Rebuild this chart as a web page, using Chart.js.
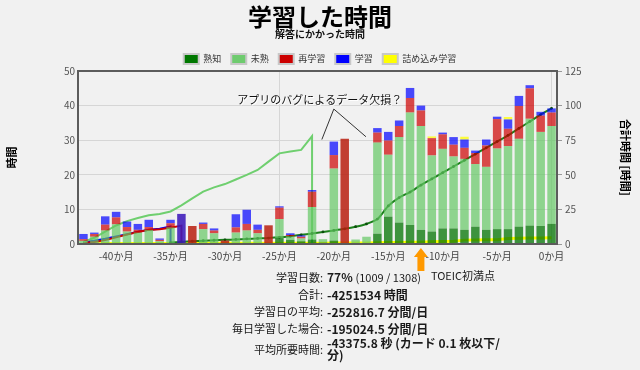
<!DOCTYPE html>
<html lang="ja">
<head>
<meta charset="utf-8">
<title>学習した時間</title>
<script src="https://cdn.jsdelivr.net/npm/chart.js@4.4.1/dist/chart.umd.min.js"></script>
<style>
  html, body { margin: 0; padding: 0; background: #f1f1f1; }
  body { width: 640px; height: 370px; position: relative; overflow: hidden;
         font-family: "Noto Sans CJK JP", "Noto Sans", sans-serif; }
  #wrap { position: absolute; left: 0; top: 0; width: 640px; height: 370px; }
  #stats { position: absolute; left: 0; top: 268px; width: 640px; font-size: 11px; color: #1a1a1a; }
  .row { display: flex; align-items: center; line-height: 17px; }
  .row .k { width: 323px; text-align: right; }
  .row .v { margin-left: 4px; width: 200px; font-weight: bold; font-size: 12px; }
  .row .v.two { line-height: 12px; }
  .row .v span { font-weight: normal; font-size: 11px; }
</style>
</head>
<body>
<div id="wrap"><canvas id="chart" width="640" height="370"></canvas></div>
<div id="stats">
  <div class="row"><div class="k">学習日数:</div><div class="v">77% <span>(1009 / 1308)</span></div></div>
  <div class="row"><div class="k">合計:</div><div class="v">-4251534 時間</div></div>
  <div class="row"><div class="k">学習日の平均:</div><div class="v">-252816.7 分間/日</div></div>
  <div class="row"><div class="k">毎日学習した場合:</div><div class="v">-195024.5 分間/日</div></div>
  <div class="row"><div class="k">平均所要時間:</div><div class="v two">-43375.8 秒 (カード 0.1 枚以下/<br>分)</div></div>
</div>
<script>
// ── Data ──────────────────────────────────────────────────────────────

const months = [-43, -42, -41, -40, -39, -38, -37, -36, -35, -34, -33, -32, -31, -30, -29,
                -28, -27, -26, -25, -24, -23, -22, -21, -20, -19, -18, -17, -16, -15, -14,
                -13, -12, -11, -10, -9, -8, -7, -6, -5, -4, -3, -2, -1, 0];
const labels = months.map(m => m + 'か月');

// monthly hours (left axis), stacked
const matureHours  = [0, 0, 0, 0, 0, 0, 0, 0, 0, 0, 0, 0, 0, 0, 0,
                      0, 0, 0, 1.7, 1.2, 0.8, 1.3, 0.4, 1.0, 0, 0.3, 0.3, 3.0, 7.9, 6.2,
                      5.5, 4.1, 3.6, 4.5, 4.5, 4.1, 5.0, 4.1, 4.3, 4.3, 5.0, 5.3, 5.2, 5.8];
const unripeHours  = [0.9, 2.1, 3.9, 5.7, 3.6, 3.3, 4.1, 0.8, 4.8, 0, 0, 4.3, 3.1, 0, 3.3,
                      3.9, 3.1, 0, 5.5, 1.0, 0.8, 9.4, 1.0, 20.8, 0, 1.0, 1.8, 26.3, 17.9, 24.7,
                      32.5, 30.0, 22.0, 23.0, 20.8, 20.5, 18.1, 18.2, 23.3, 24.0, 25.4, 30.9, 27.2, 28.3];
const relearnHours = [0.5, 0.8, 1.7, 2.0, 1.3, 0.8, 0.8, 0.4, 1.2, 0, 5.2, 1.5, 0.8, 1.0, 1.5,
                      1.9, 1.0, 5.4, 3.3, 0.4, 0.5, 4.4, 0, 3.9, 30.4, 0, 0, 2.9, 4.1, 3.2,
                      4.2, 4.5, 5.0, 4.2, 3.4, 3.2, 3.2, 6.2, 8.5, 5.0, 9.5, 8.8, 4.7, 3.9];
const learnHours   = [1.5, 0.4, 2.4, 1.6, 1.6, 1.7, 2.1, 0.4, 1.0, 8.7, 0, 0.4, 0.6, 0, 3.8,
                      4.1, 1.5, 0, 0.4, 0.5, 0.4, 0.5, 0, 3.9, 0, 0, 0, 1.3, 2.5, 1.6,
                      2.9, 1.4, 0, 0.5, 2.2, 2.4, 0.7, 1.7, 0.7, 2.7, 2.9, 0.9, 1.1, 1.2];
const cramHours    = [0, 0, 0, 0, 0, 0, 0, 0, 0, 0, 0, 0, 0, 0, 0,
                      0, 0, 0, 0, 0, 0, 0, 0, 0, 0, 0, 0, 0, 0, 0,
                      0, 0, 0.5, 0, 0, 0.8, 0, 0, 0, 0.7, 0, 0, 0, 0];

// cumulative hours (right axis); null = no data
const matureTotal  = [null, null, null, null, null, null, null, null, 1.0, 1.5, 2.0, 2.4, 2.7, 3.0, 3.3,
                      3.7, 4.0, 4.3, 4.8, 5.6, 6.6, 7.6, 8.7, 9.8, 11.0, 12.5, 14.5, 18.0, 27.5, 33.5,
                      37.5, 42.5, 47.0, 51.5, 56.0, 60.5, 65.0, 69.5, 74.0, 78.5, 83.5, 88.5, 93.5, 98.0];
const unripeTotal  = [1.5, 4.5, 9.0, 13.4, 16.5, 18.8, 20.7, 21.7, 23.5, 27.9, 32.9, 37.8, 40.9, 43.3, 46.6,
                      49.9, 53.5, 59.5, 65.5, 66.8, 68.0, 78.0, null, null, null, null, null, null, null, null,
                      null, null, null, null, null, null, null, null, null, null, null, null, null, null];
const relearnTotal = [0.8, 1.5, 2.8, 4.8, 6.8, 8.6, 10.2, 10.6, 11.8, 13.3, null, null, null, null, null,
                      null, null, null, null, null, null, null, null, null, null, null, null, null, null, null,
                      null, null, null, null, null, null, null, null, null, null, null, null, null, null];
const learnTotal   = [1.5, 2.4, 3.8, 5.5, 7.1, 8.8, 10.3, 11.1, 12.6, null, null, null, null, null, null,
                      null, null, null, null, null, null, null, null, null, null, null, null, null, null, null,
                      null, null, null, null, null, null, null, null, null, null, null, null, null, null];
const cramTotal    = [0.2, 0.2, 0.3, 0.3, 0.3, 0.3, 0.4, 0.4, 0.4, 0.4, 0.4, 0.5, 0.5, 0.5, 0.5,
                      0.5, 0.5, 0.5, 0.6, 0.6, 0.6, 0.6, 0.6, 0.7, 0.7, 0.7, 0.8, 0.9, 1.0, 1.1,
                      1.2, 1.3, 1.6, 1.8, 2.0, 2.8, 2.9, 3.0, 3.1, 4.0, 4.2, 4.3, 4.4, 4.5];

const legendColors = ['#007800', '#6ecb6e', '#cc0000', '#0000ff', '#ffff00'];

// annotation anchors (month, left-axis hours)
const noteText = 'アプリのバグによるデータ欠損？';
const noteAt = [-21.3, 41.6];
const noteApex = [-20, 39];
const noteTargets = [[-21.1, 30.2], [-17.05, 31]];
const toeicMonth = -12;
const toeicText = 'TOEIC初満点';

const FONT = "'Noto Sans CJK JP', 'Noto Sans', sans-serif";
Chart.defaults.font.family = FONT;

// series that end with a fall back to zero
function toPoints(values, drop) {
    const pts = [];
    values.forEach((v, i) => { if (v !== null) pts.push({ x: labels[i], y: v }); });
    if (drop && pts.length) pts.push({ x: pts[pts.length - 1].x, y: 0 });
    return pts;
}

// bars with nothing green beneath look darker in the original
const shade = (normal, dark) => ctx => (unripeHours[ctx.dataIndex] ? normal : dark);

// ── Plugin: frame, note, arrow ───────────────────────────────────────

const decorations = {
    id: 'decorations',
    afterDatasetsDraw(chart) {
        const { ctx, chartArea: a, scales: { x, y } } = chart;
        const mx = m => x.getPixelForValue(m - months[0]);
        ctx.save();
        ctx.strokeStyle = '#5c5c5c';
        ctx.lineWidth = 2;
        ctx.strokeRect(a.left, a.top, a.right - a.left, a.bottom - a.top);

        // bug note
        ctx.strokeStyle = '#333';
        ctx.lineWidth = 1;
        ctx.beginPath();
        noteTargets.forEach(t => {
            ctx.moveTo(mx(noteApex[0]), y.getPixelForValue(noteApex[1]));
            ctx.lineTo(mx(t[0]), y.getPixelForValue(t[1]));
        });
        ctx.stroke();
        ctx.font = '11px ' + FONT;
        ctx.textAlign = 'center';
        ctx.textBaseline = 'middle';
        ctx.fillStyle = '#ffffff';
        ctx.fillText(noteText, mx(noteAt[0]) + 1, y.getPixelForValue(noteAt[1]) + 1);
        ctx.fillStyle = '#111';
        ctx.fillText(noteText, mx(noteAt[0]), y.getPixelForValue(noteAt[1]));
        ctx.restore();
    },
    afterDraw(chart) {
        const { ctx, chartArea: a, scales: { x } } = chart;
        const ax = x.getPixelForValue(toeicMonth - months[0]);
        const b = a.bottom;
        ctx.save();
        ctx.fillStyle = '#ff9900';
        ctx.beginPath();
        ctx.moveTo(ax, b + 4);
        ctx.lineTo(ax + 7, b + 13);
        ctx.lineTo(ax + 3.5, b + 13);
        ctx.lineTo(ax + 3.5, b + 27);
        ctx.lineTo(ax - 3.5, b + 27);
        ctx.lineTo(ax - 3.5, b + 13);
        ctx.lineTo(ax - 7, b + 13);
        ctx.closePath();
        ctx.fill();
        ctx.font = '11px ' + FONT;
        ctx.fillStyle = '#1a1a1a';
        ctx.textAlign = 'left';
        ctx.textBaseline = 'middle';
        ctx.fillText(toeicText, ax + 10, b + 32);
        ctx.restore();
    }
};

// ── Chart ─────────────────────────────────────────────────────────────

const barBase = { type: 'bar', yAxisID: 'y', order: 1, barPercentage: 0.78, categoryPercentage: 1.0 };
const lineBase = { type: 'line', yAxisID: 'y2', order: 2, pointRadius: 0, borderWidth: 2, tension: 0, fill: false };

new Chart(document.getElementById('chart'), {
    data: {
        labels,
        datasets: [
            { ...barBase, label: '熟知', data: matureHours, backgroundColor: 'rgba(0,115,0,0.75)' },
            { ...barBase, label: '未熟', data: unripeHours, backgroundColor: 'rgba(100,200,100,0.7)' },
            { ...barBase, label: '再学習', data: relearnHours,
              backgroundColor: shade('rgba(205,0,0,0.7)', 'rgba(185,30,15,0.85)') },
            { ...barBase, label: '学習', data: learnHours,
              backgroundColor: shade('rgba(0,0,255,0.7)', 'rgba(60,25,185,0.88)') },
            { ...barBase, label: '詰め込み学習', data: cramHours, backgroundColor: 'rgba(255,255,0,0.75)' },

            { ...lineBase, label: '熟知 合計', data: toPoints(matureTotal, false), borderColor: '#1c7f1c',
              pointRadius: 1.4, pointBackgroundColor: '#0a4d0a', pointBorderWidth: 0, tension: 0.25 },
            { ...lineBase, label: '未熟 合計', data: toPoints(unripeTotal, true), borderColor: '#6fcf6f' },
            { ...lineBase, label: '再学習 合計', data: toPoints(relearnTotal, true), borderColor: '#cc0000' },
            { ...lineBase, label: '学習 合計', data: toPoints(learnTotal, true), borderColor: '#0000ff' },
            { ...lineBase, label: '詰め込み 合計', data: toPoints(cramTotal, false), borderColor: '#ffff00', borderWidth: 3 },
        ],
    },
    options: {
        responsive: false,
        animation: false,
        layout: { padding: 0 },
        plugins: {
            title: {
                display: true, text: '学習した時間', color: '#000',
                font: { size: 24, weight: 'bold', lineHeight: 1 }, padding: { top: 5, bottom: 0 },
            },
            subtitle: {
                display: true, text: '解答にかかった時間', color: '#111',
                font: { size: 10, weight: 'bold', lineHeight: 1 }, padding: { top: 0, bottom: 5 },
            },
            legend: {
                position: 'top',
                maxHeight: 27,
                labels: {
                    boxWidth: 15, boxHeight: 10, padding: 10, color: '#333',
                    font: { size: 9 },
                    generateLabels: chart => Chart.defaults.plugins.legend.labels.generateLabels(chart)
                        .filter(it => it.datasetIndex < 5)
                        .map(it => ({ ...it, fillStyle: legendColors[it.datasetIndex], strokeStyle: '#c8c8c8', lineWidth: 2 })),
                },
            },
            tooltip: { enabled: false },
        },
        scales: {
            x: {
                stacked: true,
                offset: true,
                grid: {
                    offset: false, drawTicks: false,
                    color: ctx => (months[ctx.index] % 5 === 0 ? '#d6d6d6' : 'rgba(0,0,0,0)'),
                },
                border: { display: false },
                ticks: {
                    autoSkip: false, maxRotation: 0, padding: 6, color: '#444', font: { size: 10 },
                    callback: (v, i) => (months[i] % 5 === 0 ? labels[i] : null),
                },
                afterFit: s => { s.height = 126; },
            },
            y: {
                stacked: true, position: 'left', min: 0, max: 50,
                ticks: { stepSize: 10, padding: 3, color: '#555', font: { size: 10 } },
                grid: { color: '#d6d6d6', drawTicks: false },
                border: { display: false },
                title: { display: true, text: '時間', color: '#000', font: { size: 11, weight: 'bold' }, padding: { top: 5 } },
                afterFit: s => { s.width = 78; },
            },
            y2: {
                position: 'right', min: 0, max: 125,
                ticks: { stepSize: 25, padding: 3, color: '#555', font: { size: 10 } },
                grid: { drawOnChartArea: false, tickLength: 5, color: '#999' },
                border: { display: false },
                title: { display: true, text: '合計時間 [時間]', color: '#000', font: { size: 11, weight: 'bold' }, padding: { top: 8 } },
                afterFit: s => { s.width = 83; },
            },
        },
    },
    plugins: [decorations],
});
</script>
</body>
</html>
